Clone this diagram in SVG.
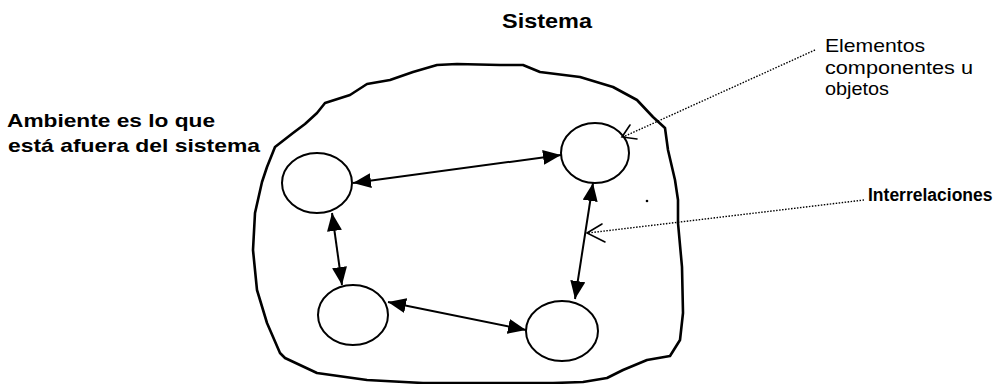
<svg xmlns="http://www.w3.org/2000/svg" width="1000" height="384" viewBox="0 0 1000 384">
  <style>
    .bold { font-family: "Liberation Sans", Arial, sans-serif; font-weight: bold; fill: #000; }
    .reg { font-family: "Liberation Sans", Arial, sans-serif; fill: #000; font-size: 18.5px; }
    .elem { fill: none; stroke: #000; stroke-width: 2; }
    .rel { fill: none; stroke: #000; stroke-width: 2; marker-start: url(#solid); marker-end: url(#solid); }
    .leader { fill: none; stroke: #000; stroke-width: 1.4; stroke-dasharray: 1.5 1.5; }
    .tick { fill: none; stroke: #000; stroke-width: 1.6; stroke-linecap: round; }
    .boundary { fill: none; stroke: #000; stroke-width: 2.6; stroke-linejoin: round; }
  </style>
  <defs>
    <marker id="solid" viewBox="0 0 18 15" refX="18" refY="7.5" markerWidth="18" markerHeight="15" markerUnits="userSpaceOnUse" orient="auto-start-reverse">
      <path d="M0,0 L18,7.5 L0,15 Z" fill="#000"/>
    </marker>
  </defs>

  <rect width="1000" height="384" fill="#fff"/>

  <!-- system boundary -->
  <g id="sistema">
    <path class="boundary" d="M275,147 L293,133 L305,124 L317,113 L325,103 L350,95 L367,84 L390,80 L413,72 L437,65 L457,64 L500,65 L523,65 L540,72 L580,77 L613,87 L637,100 L653,117 L665,128 L668,150 L675,180 L678,200 L678,223 L682,267 L683,313 L680,340 L670,356 L647,360 L623,370 L607,378 L583,382 L553,383 L500,383 L423,383 L367,380 L317,373 L285,358 L280,353 L267,323 L257,290 L253,250 L255,213 L262,182 L267,167 Z"/>
    <text class="bold" x="502" y="28" font-size="21" textLength="90" lengthAdjust="spacingAndGlyphs">Sistema</text>
  </g>

  <!-- environment label -->
  <g id="ambiente">
    <text class="bold" x="7" y="127" font-size="19" textLength="208" lengthAdjust="spacingAndGlyphs">Ambiente es lo que</text>
    <text class="bold" x="8" y="152" font-size="19" textLength="252" lengthAdjust="spacingAndGlyphs">está afuera del sistema</text>
  </g>

  <!-- component elements -->
  <g id="elemento-1"><ellipse class="elem" cx="317" cy="183" rx="35" ry="30"/></g>
  <g id="elemento-2"><ellipse class="elem" cx="595" cy="153" rx="34" ry="30"/></g>
  <g id="elemento-3"><ellipse class="elem" cx="353" cy="315" rx="35" ry="30"/></g>
  <g id="elemento-4"><ellipse class="elem" cx="562" cy="331" rx="36" ry="30"/></g>

  <!-- interrelations -->
  <g id="conectores">
    <line class="rel" x1="353" y1="183" x2="561" y2="155"/>
    <line class="rel" x1="332" y1="213" x2="342" y2="285"/>
    <line class="rel" x1="388" y1="302" x2="526" y2="330"/>
    <line class="rel" x1="593" y1="183" x2="575" y2="299"/>
  </g>

  <!-- callout for elements -->
  <g id="nota-elementos">
    <line class="leader" x1="815" y1="50" x2="623" y2="137"/>
    <polyline class="tick" points="630,125 622,137 637,139"/>
    <text class="reg" x="825" y="52" textLength="100" lengthAdjust="spacingAndGlyphs">Elementos</text>
    <text class="reg" x="825" y="73.5" textLength="148" lengthAdjust="spacingAndGlyphs">componentes u</text>
    <text class="reg" x="825" y="95" textLength="64" lengthAdjust="spacingAndGlyphs">objetos</text>
  </g>

  <!-- callout for interrelations -->
  <g id="nota-interrelaciones">
    <line class="leader" x1="864" y1="200" x2="588" y2="233"/>
    <polyline class="tick" points="602,224 587,233 605,242"/>
    <text class="bold" x="868" y="201" font-size="17.5">Interrelaciones</text>
  </g>

  <circle cx="647" cy="201" r="1.3" fill="#000"/>
</svg>
